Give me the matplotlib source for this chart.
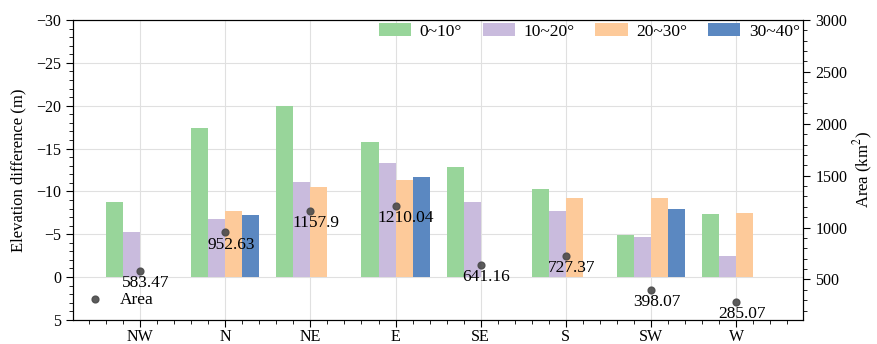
import numpy as np
import matplotlib
matplotlib.use('Agg')
import matplotlib.pyplot as plt
from matplotlib.ticker import MultipleLocator

plt.rcParams['font.family'] = ['Liberation Serif', 'DejaVu Serif']
plt.rcParams['font.size'] = 11.5
plt.rcParams['mathtext.fontset'] = 'stix'

# aspects and the elevation difference for each slope class (m)
aspects = ['NW', 'N', 'NE', 'E', 'SE', 'S', 'SW', 'W']
slope_labels = ['0~10°', '10~20°', '20~30°', '30~40°']
diff_0_10 = [-8.8, -17.4, -20.0, -15.8, -12.8, -10.3, -4.9, -7.4]
diff_10_20 = [-5.25, -6.8, -11.1, -13.3, -8.75, -7.7, -4.7, -2.5]
diff_20_30 = [0, -7.7, -10.5, -11.35, 0, -9.2, -9.2, -7.5]
diff_30_40 = [0, -7.2, 0, -11.65, 0, 0, -7.9, 0]
area = [583.47, 952.63, 1157.9, 1210.04, 641.16, 727.37, 398.07, 285.07]

colors = ['#98d59a', '#c9bbdd', '#fdca9a', '#5b88c1']
series = [diff_0_10, diff_10_20, diff_20_30, diff_30_40]

fig, ax = plt.subplots(figsize=(8.78, 3.44), dpi=100)
fig.subplots_adjust(left=0.083, right=0.915, top=0.942, bottom=0.07)

x = np.arange(len(aspects))
w = 0.2
for k, (vals, c, lab) in enumerate(zip(series, colors, slope_labels)):
    ax.bar(x + (k - 1.5) * w, vals, width=w, color=c, label=lab,
           edgecolor='none', zorder=2)

ax.set_ylim(5, -30)
ax.set_xlim(-0.79, 7.79)
ax.set_xticks(x)
ax.set_xticklabels(aspects)
ax.xaxis.set_minor_locator(MultipleLocator(0.2))
ax.yaxis.set_major_locator(MultipleLocator(5))
ax.yaxis.set_minor_locator(MultipleLocator(1))
ax.set_ylabel('Elevation difference (m)', fontsize=12, labelpad=7)
ax.grid(True, which='major', color='#e0e0e0', linewidth=0.8, zorder=0)
ax.set_axisbelow(True)
ax.tick_params(which='major', length=5, direction='out')
ax.tick_params(which='minor', length=3, direction='out')
ax.tick_params(axis='x', pad=1.5)

ax.legend(loc='upper right', ncol=4, frameon=False, fontsize=12.5,
          handlelength=1.85, handleheight=0.7, handletextpad=0.5,
          columnspacing=1.2, borderaxespad=0.05, borderpad=0.15)

# area of each aspect on the secondary axis
ax2 = ax.twinx()
ax2.set_ylim(110, 3000)
ax2.yaxis.set_major_locator(MultipleLocator(500))
ax2.yaxis.set_minor_locator(MultipleLocator(100))
ax2.tick_params(which='major', length=5, direction='out')
ax2.tick_params(which='minor', length=3, direction='out')
ax2.set_ylabel('Area (km$^2$)', fontsize=12, labelpad=3)
sc = ax2.scatter(x, area, s=24, color='#4a4a4a', alpha=0.9, zorder=5, label='Area')
for xi, a in zip(x, area):
    ax2.annotate(f'{a:g}', (xi, a), xytext=(-13, -3), textcoords='offset points',
                 ha='left', va='top', fontsize=12.5, zorder=6)
ax2.legend(handles=[sc], loc='lower left', frameon=False, fontsize=12.5,
           handlelength=1.2, handletextpad=0.8, borderaxespad=0.4,
           borderpad=0.3)

plt.savefig('out.png', dpi=100)
plt.close()
